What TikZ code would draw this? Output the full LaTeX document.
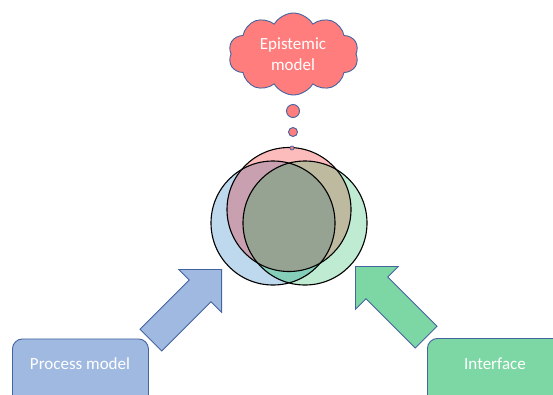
\documentclass[tikz,border=0pt]{standalone}
\usepackage{fontspec}
\setmainfont{Carlito}
\usetikzlibrary{shapes.symbols,shapes.arrows}
\definecolor{edgeblue}{RGB}{68,100,160}
\definecolor{boxblue}{RGB}{160,185,225}
\definecolor{boxgreen}{RGB}{125,215,165}
\definecolor{cloudred}{RGB}{255,125,125}
\definecolor{cB}{RGB}{190,216,237}
\definecolor{cG}{RGB}{192,235,211}
\definecolor{cR}{RGB}{252,188,188}
\definecolor{cRB}{RGB}{201,160,176}
\definecolor{cRG}{RGB}{190,186,160}
\definecolor{cBG}{RGB}{132,206,186}
\definecolor{cRBG}{RGB}{150,162,146}
\tikzset{
  box/.style={draw=edgeblue, line width=0.9pt, rounded corners=10pt, inner sep=0pt},
  lbl/.style={text=white, font=\fontsize{17}{21}\selectfont, inner sep=0pt, align=center},
  blockarrow/.style={single arrow, draw=edgeblue, line width=0.8pt, inner xsep=0pt, inner ysep=15pt,
    minimum height=100pt, single arrow head extend=15pt,
    single arrow tip angle=90, anchor=tip},
  bubble/.style={draw=edgeblue, fill=cloudred, line width=0.9pt},
  ring/.style={draw=black, line width=1.1pt}
}
\begin{document}
\begin{tikzpicture}[x=1pt,y=-1pt]
\useasboundingbox (0,0) rectangle (553,394);
% venn circles
\coordinate (cb) at (273,223);
\coordinate (cg) at (305,223);
\coordinate (cr) at (289,209.5);
\fill[cB] (cb) circle[radius=62];
\fill[cG] (cg) circle[radius=62];
\fill[cR] (cr) circle[radius=62];
\begin{scope}
  \clip (cb) circle[radius=62];
  \fill[cBG] (cg) circle[radius=62];
  \fill[cRB] (cr) circle[radius=62];
\end{scope}
\begin{scope}
  \clip (cg) circle[radius=62];
  \fill[cRG] (cr) circle[radius=62];
\end{scope}
\begin{scope}
  \clip (cb) circle[radius=62];
  \clip (cg) circle[radius=62];
  \fill[cRBG] (cr) circle[radius=62];
\end{scope}
\draw[ring] (cb) circle[radius=62];
\draw[ring] (cg) circle[radius=62];
\draw[ring] (cr) circle[radius=62];
% cloud
\node[cloud, cloud puffs=10, cloud puff arc=120, draw=edgeblue, fill=cloudred, line width=0.9pt,
  minimum width=130pt, minimum height=82pt, inner sep=0pt] (cloud) at (293.5,54) {};
\node[lbl] (cloudtext) at (293,54) {Epistemic\\model};
% thought bubbles
\node[bubble, circle, minimum size=13pt, inner sep=0pt] (b1) at (293,111) {};
\node[bubble, circle, minimum size=9pt, inner sep=0pt] (b2) at (293,132) {};
\node[bubble, circle, minimum size=4pt, inner sep=0pt, line width=0.7pt] (b3) at (292,148) {};
% boxes
\node[box, fill=boxblue, minimum width=136pt, minimum height=70pt, anchor=north west] (pmbox) at (12,338.5) {};
\node[lbl] (pmtext) at (80,364) {Process model};
\node[box, fill=boxgreen, minimum width=140pt, minimum height=70pt, anchor=north west] (ifbox) at (427,338) {};
\node[lbl] (iftext) at (495,364) {Interface};
% block arrows
\node[blockarrow, fill=boxblue, rotate=45] (arrowpm) at (222,269) {};
\node[blockarrow, fill=boxgreen, rotate=135] (arrowif) at (355,266) {};
\end{tikzpicture}
\end{document}
